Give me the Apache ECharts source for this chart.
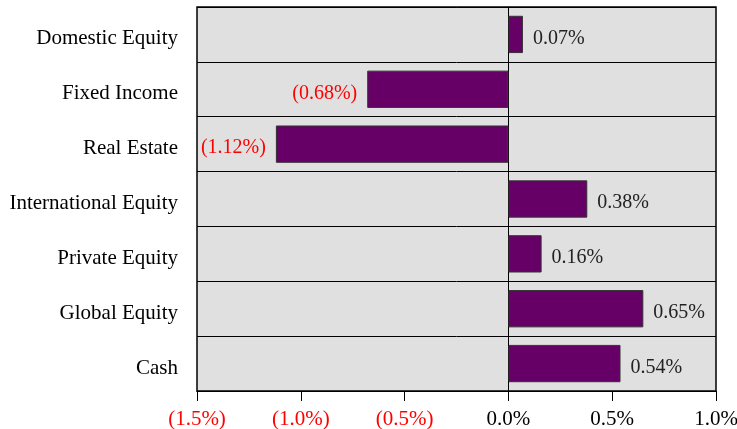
<!DOCTYPE html>
<html><head><meta charset="utf-8">
<script src="https://cdn.jsdelivr.net/npm/echarts@6/dist/echarts.min.js"></script>
<style>html,body{margin:0;padding:0;background:#fff}#c{width:737px;height:429px}</style>
</head><body><div id="c"></div>
<script>
const categories = ["Domestic Equity","Fixed Income","Real Estate","International Equity","Private Equity","Global Equity","Cash"];
const values = [0.07,-0.68,-1.12,0.38,0.16,0.65,0.54];
const xTicks = {min:-1.5, max:1.0, interval:0.5};
const font = "Liberation Serif";
function fmt(v, d){ const s = Math.abs(v).toFixed(d)+'%'; return v < 0 ? '('+s+')' : s; }
const chart = echarts.init(document.getElementById('c'));
chart.setOption({
  animation:false,
  grid:{left:197,right:21,top:7,bottom:38,containLabel:false,outerBoundsMode:'none',show:true,backgroundColor:'#e0e0e0',borderColor:'#000',borderWidth:1.5},
  xAxis:{type:'value',min:xTicks.min,max:xTicks.max,interval:xTicks.interval,
    axisLine:{show:true,onZero:false,lineStyle:{color:'#000'}},
    axisTick:{show:true,length:10,lineStyle:{color:'#000'}},
    splitLine:{show:false},
    axisLabel:{fontFamily:font,fontSize:21,margin:18,formatter:v=>fmt(v,1),
      color:(v)=>Number(v)<0?'#ff0000':'#000'}},
  yAxis:{type:'category',inverse:true,data:categories,
    axisLine:{show:true,onZero:true,lineStyle:{color:'#000',width:1}},
    axisTick:{show:false},
    splitLine:{show:true,lineStyle:{color:'#000',width:1}},
    axisLabel:{fontFamily:font,fontSize:21,color:'#000',margin:19,verticalAlign:'top',lineHeight:9}},
  series:[{type:'bar',barWidth:'68%',
    itemStyle:{color:'#660066',borderColor:'#333',borderWidth:1},
    label:{show:true,fontFamily:font,fontSize:20,distance:10,offset:[0,4],
      formatter:p=>fmt(p.value,2)},
    data:values.map(v=>({value:v,label:v<0?{position:'left',color:'#ff0000'}:{position:'right',color:'#222'}}))
  }]
});
</script></body></html>
